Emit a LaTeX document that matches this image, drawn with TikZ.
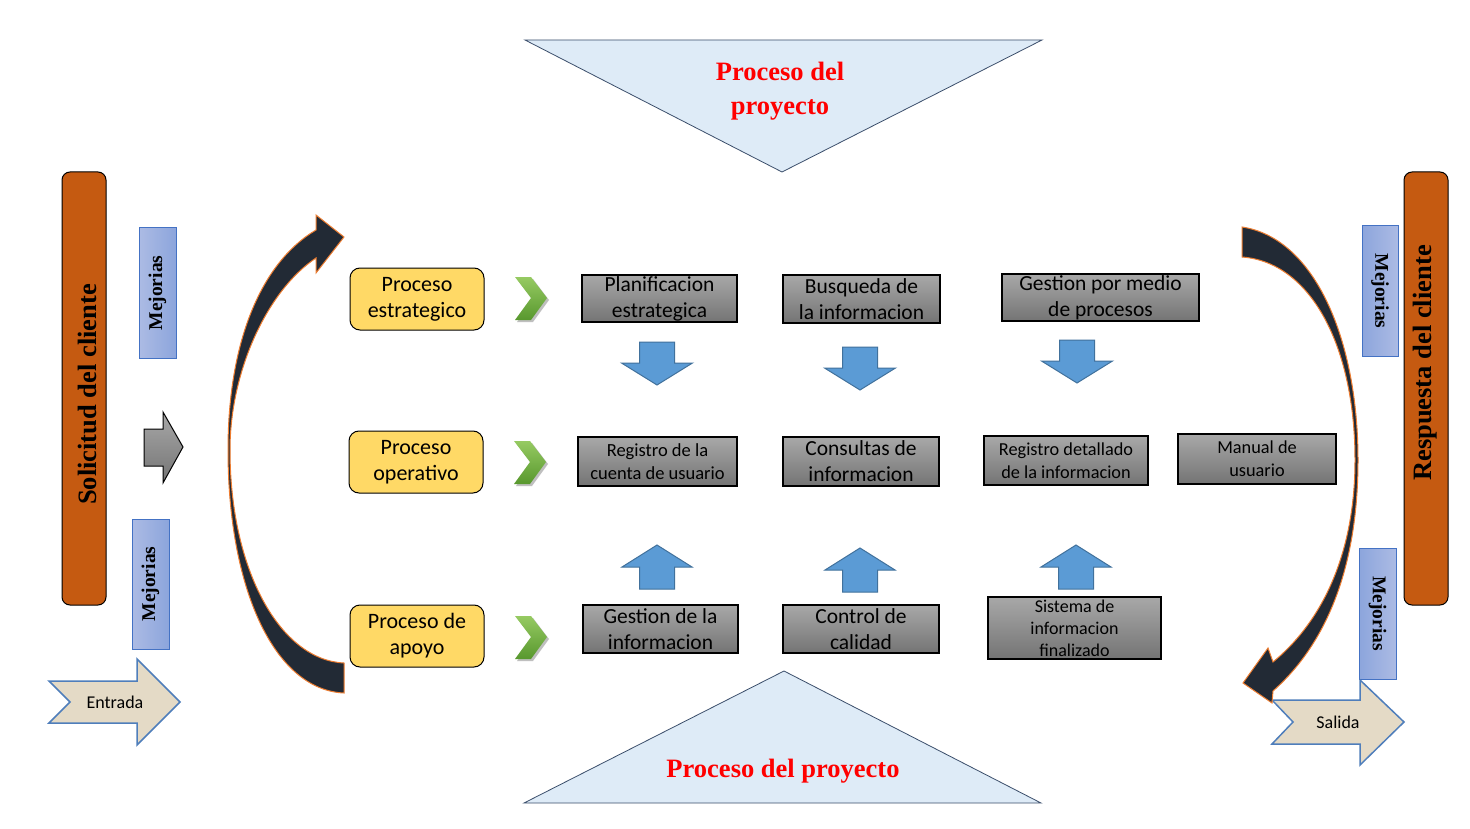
\documentclass[tikz,border=0pt]{standalone}
\usepackage{fontspec}
\setmainfont{Carlito}
\newfontfamily\titlefont{Liberation Serif}
\definecolor{barorange}{RGB}{197,90,17}
\definecolor{arcdark}{RGB}{34,42,53}
\definecolor{arcline}{RGB}{237,125,49}
\definecolor{trifill}{RGB}{222,235,247}
\definecolor{triline}{RGB}{59,78,107}
\definecolor{procyellow}{RGB}{255,217,102}
\definecolor{bluefill}{RGB}{91,155,213}
\definecolor{blueline}{RGB}{65,113,156}
\definecolor{mejlight}{RGB}{172,187,228}
\definecolor{mejdark}{RGB}{140,165,220}
\definecolor{mejline}{RGB}{68,114,196}
\definecolor{graytop}{RGB}{168,168,168}
\definecolor{graybot}{RGB}{116,116,116}
\definecolor{greentop}{RGB}{150,202,98}
\definecolor{greenbot}{RGB}{88,152,46}
\definecolor{burlap}{RGB}{228,218,198}
\definecolor{burlapline}{RGB}{79,126,187}
\definecolor{titlered}{RGB}{255,0,0}
\tikzset{
  graybox/.style={draw=black, line width=1.2pt, top color=graytop, bottom color=graybot,
    align=center, inner sep=0pt, text=black, font=\fontsize{21.5}{26}\selectfont},
  procbox/.style={draw=black, line width=1pt, fill=procyellow, rounded corners=10pt,
    align=center, inner sep=0pt, minimum width=134, minimum height=62,
    font=\fontsize{22}{26}\selectfont},
  mejbox/.style={draw=mejline, line width=1pt, inner sep=0pt},
  mejtext/.style={font=\titlefont\bfseries\fontsize{19.5}{22}\selectfont, text=black},
  sidebar/.style={draw=black, line width=1pt, fill=barorange, rounded corners=8pt,
    minimum width=44, minimum height=433, inner sep=0pt},
  sidetext/.style={font=\titlefont\bfseries\fontsize{26.5}{30}\selectfont, text=black},
  titletext/.style={font=\titlefont\bfseries\fontsize{26.5}{34}\selectfont, text=titlered, align=center},
  arcarrow/.style={fill=arcdark, draw=arcline, line width=1pt, line join=miter},
  bluearrow/.style={fill=bluefill, draw=blueline, line width=1pt},
  chevron/.style={top color=greentop, bottom color=greenbot, draw=none},
  burlaparrow/.style={fill=burlap, draw=burlapline, line width=1.5pt},
  burlaptext/.style={font=\fontsize{18}{20}\selectfont, text=black}
}
\begin{document}
\begin{tikzpicture}[x=1pt,y=-1pt]
\useasboundingbox (0,0) rectangle (1470,829);
\fill[white] (0,0) rectangle (1470,829);

% triangles
\draw[fill=trifill, draw=triline, line width=0.8pt] (525,40) -- (1042,40) -- (782,172) -- cycle;
\node[titletext] (ttop) at (780,91.5) {Proceso del\\proyecto};
\draw[fill=trifill, draw=triline, line width=0.8pt] (524,803) -- (1041,803) -- (784,671) -- cycle;
\node[titletext] (tbot) at (783,771.5) {Proceso del proyecto};

% side bars
\node[sidebar] (lbar) at (84,388.5) {};
\node[sidetext, rotate=90] (ltext) at (87,394.5) {Solicitud del cliente};
\node[sidebar] (rbar) at (1426,388.5) {};
\node[sidetext, rotate=90] (rtext) at (1425,363) {Respuesta del cliente};

% mejorias boxes
\node[mejbox, left color=mejlight, right color=mejdark, minimum width=37, minimum height=130] (m1) at (157.5,293) {};
\node[mejtext, rotate=90] at (m1) {Mejorias};
\node[mejbox, left color=mejlight, right color=mejdark, minimum width=37, minimum height=130] (m2) at (150.5,584) {};
\node[mejtext, rotate=90] at (m2) {Mejorias};
\node[mejbox, left color=mejdark, right color=mejlight, minimum width=36, minimum height=130] (m3) at (1380,291) {};
\node[mejtext, rotate=-90] at (m3) {Mejorias};
\node[mejbox, left color=mejdark, right color=mejlight, minimum width=37, minimum height=131] (m4) at (1377.5,613.5) {};
\node[mejtext, rotate=-90] at (m4) {Mejorias};

% gray block arrow
\draw[top color=graytop, bottom color=graybot, draw=black, line width=1pt]
  (144,429) -- (163,429) -- (163,412) -- (183,447) -- (163,483) -- (163,466) -- (144,466) -- cycle;

% entrada / salida
\draw[burlaparrow] (49,681) -- (137,681) -- (137,659) -- (180,702) -- (137,745) -- (137,723) -- (49,723) -- (70,702) -- cycle;
\node[burlaptext] (entrada) at (115,702) {Entrada};
\draw[burlaparrow] (1272,700) -- (1360,700) -- (1360,680) -- (1404,722) -- (1360,765) -- (1360,744) -- (1272,744) -- (1293,722) -- cycle;
\node[burlaptext] (salida) at (1338,722) {Salida};

% left curved arrow
\draw[arcarrow]
  (344,663) -- (344,693)
  .. controls (275,690) and (228,590) .. (228,450)
  .. controls (228,340) and (262,262) .. (316,230)
  -- (316,215) -- (344,237) -- (316,273) -- (316,258)
  .. controls (268,290) and (230,370) .. (230,450)
  .. controls (230,570) and (280,660) .. (344,663) -- cycle;

% right curved arrow
\draw[arcarrow]
  (1242,227) .. controls (1315,238) and (1358,340) .. (1358,460)
  .. controls (1358,570) and (1325,645) .. (1273,691)
  -- (1272,703) -- (1243,683) -- (1268,648) -- (1273,662)
  .. controls (1318,625) and (1355,560) .. (1355,460)
  .. controls (1355,345) and (1310,262) .. (1242,257) -- cycle;

% process boxes
\node[procbox] (ps) at (417,299) {Proceso\\estrategico};
\node[procbox] (po) at (416,462) {Proceso\\operativo};
\node[procbox] (pa) at (417,636) {Proceso de\\apoyo};

% chevrons
\foreach \cx/\cy in {515/298, 514/462, 515/637}{
  \fill[black!25] (\cx+2,\cy-19) -- (\cx+18,\cy-19) -- (\cx+34,\cy+2) -- (\cx+18,\cy+24) -- (\cx+2,\cy+24) -- (\cx+18,\cy+2) -- cycle;
  \path[chevron] (\cx,\cy-21) -- (\cx+16,\cy-21) -- (\cx+32,\cy) -- (\cx+16,\cy+22) -- (\cx,\cy+22) -- (\cx+16,\cy) -- cycle;
}

% gray boxes
\node[graybox, minimum width=155, minimum height=47] (plan) at (659.5,298.5) {Planificacion\\estrategica};
\node[graybox, minimum width=157, minimum height=48] (busq) at (861.5,299) {Busqueda de\\la informacion};
\node[graybox, minimum width=197, minimum height=47] (gest) at (1100.5,297.5) {Gestion por medio\\de procesos};
\node[graybox, minimum width=159, minimum height=49, font=\fontsize{18.5}{23}\selectfont] (reg) at (657.5,461.5) {Registro de la\\cuenta de usuario};
\node[graybox, minimum width=156, minimum height=49] (cons) at (861,461.5) {Consultas de\\informacion};
\node[graybox, minimum width=164, minimum height=49, font=\fontsize{18.3}{23}\selectfont] (regd) at (1066,460.5) {Registro detallado\\de la informacion};
\node[graybox, minimum width=158, minimum height=50, font=\fontsize{18.3}{23}\selectfont] (man) at (1257,459) {Manual de\\usuario};
\node[graybox, minimum width=155, minimum height=48] (gdi) at (660.5,629) {Gestion de la\\informacion};
\node[graybox, minimum width=156, minimum height=48] (cal) at (861,629) {Control de\\calidad};
\node[graybox, minimum width=173, minimum height=62, font=\fontsize{18}{22}\selectfont] (sis) at (1074.5,628) {Sistema de\\informacion\\finalizado};

% blue down arrows
\foreach \ax/\ay in {657/342, 860/347, 1077/340}{
  \draw[bluearrow] (\ax-17.5,\ay) -- (\ax+17.5,\ay) -- (\ax+17.5,\ay+21) -- (\ax+35.5,\ay+21)
    -- (\ax,\ay+43) -- (\ax-35.5,\ay+21) -- (\ax-17.5,\ay+21) -- cycle;
}
% blue up arrows
\foreach \ax/\ay in {657/545, 860/548, 1076/545}{
  \draw[bluearrow] (\ax,\ay) -- (\ax+35,\ay+22) -- (\ax+17.5,\ay+22) -- (\ax+17.5,\ay+44)
    -- (\ax-17.5,\ay+44) -- (\ax-17.5,\ay+22) -- (\ax-35,\ay+22) -- cycle;
}
\end{tikzpicture}
\end{document}
